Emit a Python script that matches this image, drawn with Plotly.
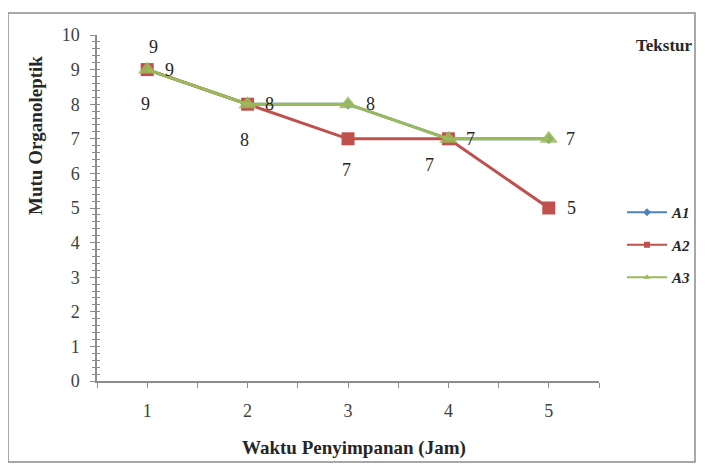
import plotly.graph_objects as go

waktu = [1, 2, 3, 4, 5]
a1 = [9, 8, 8, 7, 7]
a2 = [9, 8, 7, 7, 5]
a3 = [9, 8, 8, 7, 7]
y_ticks = list(range(0, 11))

SERIF = "Liberation Serif"
OFF = 8  # page body margin
W, H = 697, 460
L, T = 89, 27
pw, ph = 502, 346
R = W - L - pw
B = H - T - ph

def px(x):  # page pixel -> paper
    return (x - OFF - L) / pw

def py(y):
    return (OFF + T + ph - y) / ph

fig = go.Figure()
fig.add_trace(go.Scatter(x=waktu, y=a1, name="A1", mode="lines+markers",
                         line=dict(color="#4F81BD", width=3),
                         marker=dict(symbol="diamond", size=8, color="#4F81BD"),
                         showlegend=False))
fig.add_trace(go.Scatter(x=waktu, y=a2, name="A2", mode="lines+markers",
                         line=dict(color="#C0504D", width=3),
                         marker=dict(symbol="square", size=13, color="#C0504D"),
                         showlegend=False))
fig.add_trace(go.Scatter(x=waktu, y=a3, name="A3", mode="lines+markers",
                         line=dict(color="#9BBB59", width=3),
                         marker=dict(symbol="triangle-up", size=16, color="rgba(155,187,89,0.85)"),
                         showlegend=False))
for nm, col, sym in [("A1", "#4F81BD", "diamond"), ("A2", "#C0504D", "square"), ("A3", "#9BBB59", "triangle-up")]:
    fig.add_trace(go.Scatter(x=[None], y=[None], name=nm, mode="lines+markers",
                             line=dict(color=col, width=2), marker=dict(symbol=sym, size=6, color=col),
                             legendgroup=nm))

lab_font = dict(family=SERIF, size=18, color="#262626")
for xv, yv in zip(waktu, a3):
    fig.add_annotation(x=xv, y=yv, text=str(yv), showarrow=False, xshift=22, font=lab_font)
a2_shift = [(-2, -34), (-3, -36), (-2, -31), (-19, -26), (23, 0)]
for (xv, yv), (dx, dy) in zip(zip(waktu, a2), a2_shift):
    fig.add_annotation(x=xv, y=yv, text=str(yv), showarrow=False, xshift=dx, yshift=dy, font=lab_font)
fig.add_annotation(x=waktu[0], y=a1[0], text=str(a1[0]), showarrow=False, xshift=6, yshift=23, font=lab_font)

title_font = dict(family=SERIF, size=19, color="#262626")
common = dict(xref="paper", yref="paper", showarrow=False, xanchor="center", yanchor="middle", font=title_font)
fig.add_annotation(x=px(354), y=py(448), text="<b>Waktu Penyimpanan (Jam)</b>", **common)
fig.add_annotation(x=px(35), y=py(136), text="<b>Mutu Organoleptik</b>", textangle=-90, **common)
fig.add_annotation(x=px(664), y=py(46), text="<b>Tekstur</b>",
                   xref="paper", yref="paper", showarrow=False, xanchor="center", yanchor="middle",
                   font=dict(family=SERIF, size=17, color="#262626"))

fig.add_shape(type="rect", xref="paper", yref="paper", x0=px(8), x1=px(695), y0=py(462), y1=py(13),
              line=dict(color="#8C8C8C", width=1.5), fillcolor="rgba(0,0,0,0)", layer="below")

axis_col = "#8C8C8C"
tick_font = dict(family=SERIF, size=18, color="#404040")
fig.update_layout(
    width=W, height=H,
    margin=dict(l=L, r=R, t=T, b=B, autoexpand=False),
    paper_bgcolor="white", plot_bgcolor="white",
    font=dict(family=SERIF, size=15, color="#404040"),
    showlegend=True,
    legend=dict(x=px(622), y=py(196), xanchor="left", yanchor="top",
                font=dict(family=SERIF, size=15, color="#262626", style="italic", weight="bold"),
                tracegroupgap=10, itemwidth=40, bgcolor="rgba(0,0,0,0)"),
    xaxis=dict(range=[0.5, 5.5], tickvals=waktu, ticktext=[str(v) for v in waktu],
               showgrid=False, zeroline=False, showline=True, linecolor=axis_col, linewidth=1.5,
               ticks="outside", ticklen=5, tickcolor=axis_col,
               minor=dict(tickvals=[0.5, 1.5, 2.5, 3.5, 4.5, 5.5], ticks="outside", ticklen=5, tickcolor=axis_col),
               tickfont=tick_font, ticklabelstandoff=8),
    yaxis=dict(range=[0, 10], tickvals=y_ticks, showgrid=False, zeroline=False,
               showline=True, linecolor=axis_col, linewidth=1.5,
               ticks="outside", ticklen=5, tickcolor=axis_col,
               minor=dict(dtick=0.2, ticks="outside", ticklen=3, tickcolor=axis_col),
               tickfont=tick_font, ticklabelstandoff=7),
    yaxis2=dict(range=[0, 10], overlaying="y", side="left", anchor="x", showticklabels=False,
                showgrid=False, zeroline=False, ticks="inside", ticklen=3, tickcolor=axis_col, dtick=0.2),
)
fig.add_trace(go.Scatter(x=[None], y=[None], yaxis="y2", showlegend=False, hoverinfo="skip"))

fig.write_html("out.html")
